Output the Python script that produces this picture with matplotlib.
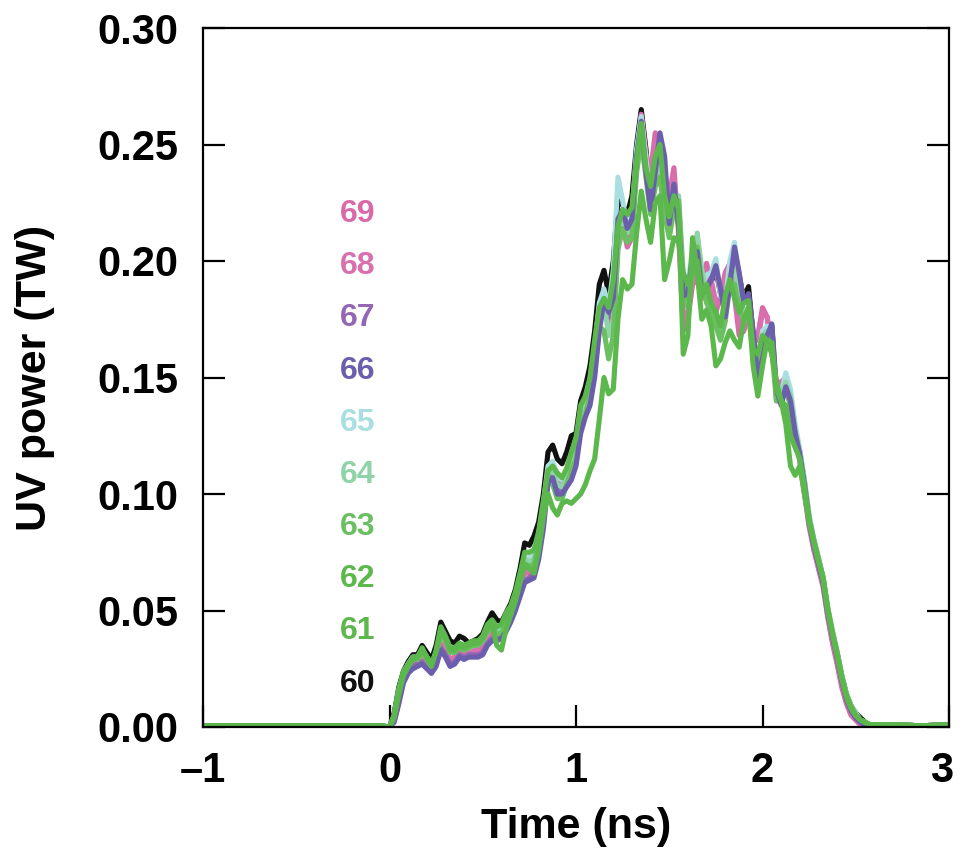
import numpy as np
import matplotlib
matplotlib.use("Agg")
import matplotlib.pyplot as plt
from matplotlib.transforms import ScaledTranslation

plt.rcParams["font.family"] = ["Liberation Sans", "DejaVu Sans"]
plt.rcParams["font.weight"] = "bold"

# time grid of the pulse part (ns), 0.025 ns sampling
TIME = np.round(np.arange(105) * 0.025, 3)
# flat baseline before and after the pulse
PRE_T = [-1.0, -0.5, -0.05]
PRE_P = [0.0005, 0.0005, 0.0005]
POST_T = [2.7, 2.85, 3.0]
POST_P = [0.001, 0.0005, 0.001]

# UV power (TW) per shot
P60 = [0.000, 0.006, 0.017, 0.024, 0.028, 0.031, 0.031, 0.035, 0.032, 0.029, 0.035, 0.045, 0.041, 0.037, 0.036,
       0.039, 0.038, 0.036, 0.037, 0.038, 0.040, 0.045, 0.049, 0.046, 0.045, 0.049, 0.053, 0.059, 0.068, 0.079,
       0.078, 0.082, 0.088, 0.100, 0.118, 0.121, 0.115, 0.113, 0.118, 0.125, 0.126, 0.140, 0.146, 0.155, 0.170,
       0.190, 0.196, 0.186, 0.200, 0.226, 0.224, 0.220, 0.228, 0.250, 0.265, 0.248, 0.226, 0.240, 0.246, 0.225,
       0.216, 0.230, 0.218, 0.184, 0.186, 0.203, 0.203, 0.186, 0.190, 0.191, 0.197, 0.186, 0.180, 0.192, 0.205,
       0.193, 0.184, 0.189, 0.168, 0.153, 0.162, 0.170, 0.172, 0.142, 0.140, 0.146, 0.140, 0.127, 0.118, 0.105,
       0.090, 0.080, 0.072, 0.064, 0.050, 0.040, 0.032, 0.022, 0.014, 0.009, 0.006, 0.004, 0.002, 0.001, 0.001]
P61 = [0.000, 0.005, 0.016, 0.024, 0.027, 0.030, 0.030, 0.034, 0.030, 0.026, 0.033, 0.043, 0.039, 0.034, 0.034,
       0.036, 0.035, 0.036, 0.037, 0.037, 0.039, 0.044, 0.046, 0.043, 0.044, 0.049, 0.052, 0.058, 0.066, 0.075,
       0.075, 0.076, 0.084, 0.097, 0.110, 0.112, 0.109, 0.107, 0.111, 0.118, 0.124, 0.138, 0.142, 0.150, 0.166,
       0.180, 0.184, 0.180, 0.192, 0.215, 0.222, 0.220, 0.223, 0.243, 0.259, 0.240, 0.232, 0.245, 0.250, 0.228,
       0.219, 0.228, 0.222, 0.160, 0.168, 0.210, 0.195, 0.175, 0.179, 0.172, 0.155, 0.158, 0.165, 0.170, 0.166,
       0.163, 0.175, 0.180, 0.155, 0.142, 0.155, 0.166, 0.160, 0.148, 0.140, 0.130, 0.112, 0.108, 0.112, 0.100,
       0.088, 0.079, 0.071, 0.064, 0.050, 0.040, 0.031, 0.021, 0.013, 0.008, 0.005, 0.003, 0.002, 0.001, 0.001]
P62 = [0.000, 0.004, 0.014, 0.022, 0.026, 0.029, 0.030, 0.033, 0.030, 0.027, 0.032, 0.041, 0.038, 0.033, 0.033,
       0.035, 0.034, 0.035, 0.036, 0.036, 0.038, 0.042, 0.044, 0.035, 0.033, 0.042, 0.048, 0.054, 0.062, 0.070,
       0.068, 0.066, 0.076, 0.090, 0.100, 0.094, 0.091, 0.096, 0.097, 0.096, 0.098, 0.100, 0.104, 0.110, 0.115,
       0.132, 0.150, 0.143, 0.145, 0.175, 0.192, 0.188, 0.190, 0.212, 0.230, 0.218, 0.208, 0.225, 0.228, 0.192,
       0.200, 0.210, 0.208, 0.195, 0.190, 0.195, 0.200, 0.185, 0.190, 0.182, 0.178, 0.172, 0.185, 0.192, 0.184,
       0.178, 0.182, 0.183, 0.162, 0.160, 0.168, 0.166, 0.165, 0.145, 0.140, 0.138, 0.125, 0.120, 0.115, 0.103,
       0.089, 0.080, 0.072, 0.063, 0.050, 0.040, 0.031, 0.021, 0.013, 0.008, 0.005, 0.003, 0.002, 0.001, 0.001]
P63 = [0.000, 0.004, 0.015, 0.022, 0.026, 0.029, 0.029, 0.032, 0.029, 0.026, 0.031, 0.040, 0.037, 0.032, 0.032,
       0.034, 0.033, 0.034, 0.035, 0.035, 0.037, 0.041, 0.043, 0.040, 0.040, 0.045, 0.049, 0.055, 0.062, 0.070,
       0.069, 0.070, 0.079, 0.092, 0.106, 0.104, 0.098, 0.098, 0.104, 0.110, 0.115, 0.128, 0.134, 0.142, 0.156,
       0.172, 0.170, 0.158, 0.168, 0.205, 0.214, 0.208, 0.210, 0.238, 0.252, 0.236, 0.220, 0.232, 0.236, 0.220,
       0.210, 0.222, 0.226, 0.190, 0.180, 0.196, 0.206, 0.190, 0.182, 0.178, 0.172, 0.166, 0.174, 0.190, 0.190,
       0.180, 0.174, 0.178, 0.160, 0.155, 0.165, 0.168, 0.162, 0.140, 0.140, 0.145, 0.138, 0.126, 0.116, 0.104,
       0.089, 0.080, 0.072, 0.064, 0.051, 0.041, 0.032, 0.022, 0.014, 0.009, 0.005, 0.003, 0.002, 0.001, 0.001]
P64 = [0.000, 0.004, 0.015, 0.023, 0.027, 0.030, 0.030, 0.033, 0.030, 0.026, 0.032, 0.041, 0.038, 0.033, 0.033,
       0.035, 0.034, 0.035, 0.036, 0.036, 0.038, 0.042, 0.044, 0.041, 0.041, 0.046, 0.050, 0.056, 0.064, 0.072,
       0.071, 0.072, 0.081, 0.094, 0.109, 0.110, 0.104, 0.103, 0.108, 0.114, 0.120, 0.133, 0.138, 0.146, 0.160,
       0.178, 0.182, 0.168, 0.175, 0.212, 0.218, 0.212, 0.216, 0.242, 0.256, 0.238, 0.222, 0.236, 0.242, 0.228,
       0.214, 0.226, 0.228, 0.195, 0.188, 0.200, 0.212, 0.196, 0.186, 0.182, 0.175, 0.170, 0.178, 0.194, 0.196,
       0.186, 0.178, 0.180, 0.162, 0.158, 0.168, 0.170, 0.166, 0.143, 0.142, 0.148, 0.142, 0.128, 0.118, 0.105,
       0.090, 0.080, 0.072, 0.064, 0.051, 0.041, 0.032, 0.022, 0.014, 0.009, 0.005, 0.003, 0.002, 0.001, 0.001]
P65 = [0.000, 0.005, 0.016, 0.023, 0.027, 0.030, 0.030, 0.033, 0.030, 0.027, 0.032, 0.040, 0.037, 0.033, 0.033,
       0.035, 0.034, 0.034, 0.035, 0.036, 0.037, 0.041, 0.044, 0.042, 0.043, 0.046, 0.050, 0.056, 0.064, 0.072,
       0.073, 0.075, 0.083, 0.096, 0.112, 0.114, 0.108, 0.106, 0.110, 0.116, 0.121, 0.135, 0.141, 0.149, 0.163,
       0.182, 0.188, 0.180, 0.196, 0.236, 0.226, 0.214, 0.220, 0.248, 0.262, 0.244, 0.226, 0.240, 0.248, 0.232,
       0.220, 0.230, 0.224, 0.188, 0.190, 0.206, 0.204, 0.190, 0.194, 0.195, 0.201, 0.185, 0.182, 0.200, 0.208,
       0.192, 0.183, 0.183, 0.166, 0.155, 0.170, 0.172, 0.170, 0.144, 0.143, 0.152, 0.145, 0.130, 0.119, 0.106,
       0.091, 0.081, 0.073, 0.064, 0.051, 0.041, 0.032, 0.022, 0.014, 0.009, 0.006, 0.003, 0.002, 0.001, 0.001]
P66 = [0.000, 0.002, 0.010, 0.019, 0.023, 0.025, 0.026, 0.027, 0.025, 0.023, 0.026, 0.033, 0.030, 0.026, 0.027,
       0.030, 0.029, 0.030, 0.030, 0.030, 0.031, 0.035, 0.037, 0.037, 0.038, 0.041, 0.045, 0.050, 0.056, 0.062,
       0.063, 0.064, 0.072, 0.085, 0.105, 0.107, 0.100, 0.100, 0.103, 0.106, 0.112, 0.126, 0.133, 0.138, 0.150,
       0.170, 0.183, 0.178, 0.184, 0.218, 0.222, 0.214, 0.218, 0.245, 0.260, 0.238, 0.222, 0.238, 0.255, 0.245,
       0.216, 0.233, 0.215, 0.185, 0.186, 0.203, 0.204, 0.186, 0.188, 0.192, 0.198, 0.188, 0.176, 0.190, 0.206,
       0.195, 0.182, 0.186, 0.170, 0.150, 0.158, 0.168, 0.173, 0.145, 0.138, 0.146, 0.140, 0.126, 0.117, 0.104,
       0.088, 0.078, 0.070, 0.062, 0.049, 0.039, 0.030, 0.020, 0.012, 0.007, 0.004, 0.002, 0.001, 0.000, 0.000]
P67 = [0.000, 0.003, 0.011, 0.020, 0.024, 0.026, 0.027, 0.028, 0.026, 0.024, 0.027, 0.034, 0.031, 0.027, 0.028,
       0.031, 0.030, 0.031, 0.031, 0.031, 0.032, 0.036, 0.038, 0.038, 0.039, 0.042, 0.046, 0.051, 0.057, 0.063,
       0.064, 0.066, 0.074, 0.087, 0.106, 0.108, 0.102, 0.101, 0.104, 0.108, 0.114, 0.128, 0.134, 0.140, 0.152,
       0.172, 0.184, 0.176, 0.180, 0.214, 0.220, 0.212, 0.216, 0.244, 0.258, 0.238, 0.224, 0.240, 0.252, 0.240,
       0.218, 0.232, 0.216, 0.184, 0.186, 0.201, 0.204, 0.188, 0.190, 0.192, 0.196, 0.186, 0.178, 0.190, 0.204,
       0.194, 0.182, 0.185, 0.168, 0.152, 0.160, 0.168, 0.172, 0.140, 0.140, 0.146, 0.140, 0.126, 0.117, 0.104,
       0.088, 0.078, 0.070, 0.062, 0.049, 0.039, 0.030, 0.020, 0.012, 0.007, 0.004, 0.002, 0.001, 0.000, 0.000]
P68 = [0.000, 0.003, 0.012, 0.021, 0.025, 0.027, 0.028, 0.030, 0.027, 0.025, 0.029, 0.036, 0.033, 0.029, 0.030,
       0.032, 0.031, 0.032, 0.033, 0.033, 0.035, 0.039, 0.041, 0.041, 0.041, 0.044, 0.048, 0.053, 0.060, 0.067,
       0.067, 0.070, 0.079, 0.093, 0.108, 0.109, 0.104, 0.105, 0.107, 0.111, 0.117, 0.131, 0.137, 0.143, 0.156,
       0.174, 0.184, 0.175, 0.178, 0.210, 0.218, 0.210, 0.212, 0.244, 0.262, 0.246, 0.236, 0.252, 0.244, 0.224,
       0.226, 0.236, 0.215, 0.176, 0.178, 0.192, 0.194, 0.185, 0.196, 0.192, 0.182, 0.184, 0.192, 0.198, 0.188,
       0.172, 0.172, 0.180, 0.166, 0.166, 0.178, 0.176, 0.164, 0.146, 0.146, 0.150, 0.141, 0.125, 0.115, 0.101,
       0.087, 0.077, 0.069, 0.061, 0.048, 0.037, 0.028, 0.018, 0.011, 0.006, 0.003, 0.001, 0.000, 0.000, 0.000]
P69 = [0.000, 0.003, 0.012, 0.021, 0.025, 0.027, 0.028, 0.030, 0.027, 0.025, 0.029, 0.036, 0.033, 0.029, 0.030,
       0.032, 0.031, 0.031, 0.032, 0.032, 0.034, 0.038, 0.040, 0.040, 0.040, 0.043, 0.047, 0.052, 0.059, 0.066,
       0.066, 0.069, 0.078, 0.092, 0.107, 0.108, 0.103, 0.104, 0.106, 0.110, 0.116, 0.130, 0.136, 0.142, 0.155,
       0.172, 0.182, 0.172, 0.170, 0.208, 0.215, 0.206, 0.210, 0.245, 0.263, 0.245, 0.238, 0.255, 0.240, 0.222,
       0.228, 0.240, 0.212, 0.170, 0.175, 0.190, 0.192, 0.184, 0.199, 0.190, 0.178, 0.185, 0.195, 0.199, 0.185,
       0.168, 0.170, 0.178, 0.165, 0.168, 0.180, 0.176, 0.160, 0.148, 0.148, 0.150, 0.140, 0.124, 0.114, 0.100,
       0.086, 0.076, 0.068, 0.060, 0.047, 0.036, 0.027, 0.017, 0.010, 0.005, 0.003, 0.001, 0.000, 0.000, 0.000]

SHOTS = ["60", "61", "62", "63", "64", "65", "66", "67", "68", "69"]
SERIES = {"60": P60, "61": P61, "62": P62, "63": P63, "64": P64,
          "65": P65, "66": P66, "67": P67, "68": P68, "69": P69}
COLORS = {
    "60": "#111111",
    "61": "#5cb84c",
    "62": "#5cb84c",
    "63": "#6abf60",
    "64": "#8fd3a8",
    "65": "#a9dfe0",
    "66": "#6b5fad",
    "67": "#9466b4",
    "68": "#da6fb0",
    "69": "#d86aaa",
}
# order in which the traces are stacked (first = bottom)
DRAW_ORDER = ["60", "69", "68", "67", "65", "64", "63", "66", "62", "61"]

X_TICKS = [-1, 0, 1, 2, 3]
Y_TICKS = [0.00, 0.05, 0.10, 0.15, 0.20, 0.25, 0.30]


def main():
    fig = plt.figure(figsize=(9.58, 8.51), dpi=100)
    ax = fig.add_axes([203 / 958, 124 / 851, 746 / 958, 699 / 851])

    for shot in DRAW_ORDER:
        t = np.concatenate([PRE_T, TIME, POST_T])
        p = np.concatenate([PRE_P, SERIES[shot], POST_P])
        ax.plot(t, p, color=COLORS[shot], linewidth=3.7,
                solid_joinstyle="round", solid_capstyle="round")

    # shot numbers stacked at the left of the pulse
    for k, shot in enumerate(SHOTS):
        ax.text(-0.075, 0.0186 + 0.02240 * k, shot, color=COLORS[shot],
                fontsize=23, fontweight="bold", ha="right", va="center")

    ax.set_xlim(-1, 3)
    ax.set_ylim(0, 0.30)
    ax.set_xticks(X_TICKS)
    ax.set_xticklabels([f"{v:d}".replace("-", "\u2013") for v in X_TICKS])
    ax.set_yticks(Y_TICKS)
    ax.set_yticklabels([f"{v:.2f}" for v in Y_TICKS])

    ax.tick_params(direction="in", length=16, width=1.6, top=False, right=True,
                   labelsize=30, pad=17)
    ax.tick_params(axis="y", pad=18)
    for spine in ax.spines.values():
        spine.set_linewidth(1.6)

    # last x label sits slightly left of its tick, as in the original figure
    last = ax.get_xticklabels()[-1]
    last.set_transform(last.get_transform() + ScaledTranslation(-5 / 72, 0, fig.dpi_scale_trans))

    ax.set_xlabel("Time (ns)", fontsize=31, fontweight="bold", labelpad=12)
    ax.set_ylabel("UV power (TW)", fontsize=31, fontweight="bold", labelpad=30)

    fig.savefig("out.png", dpi=100)
    plt.close(fig)


if __name__ == "__main__":
    main()
